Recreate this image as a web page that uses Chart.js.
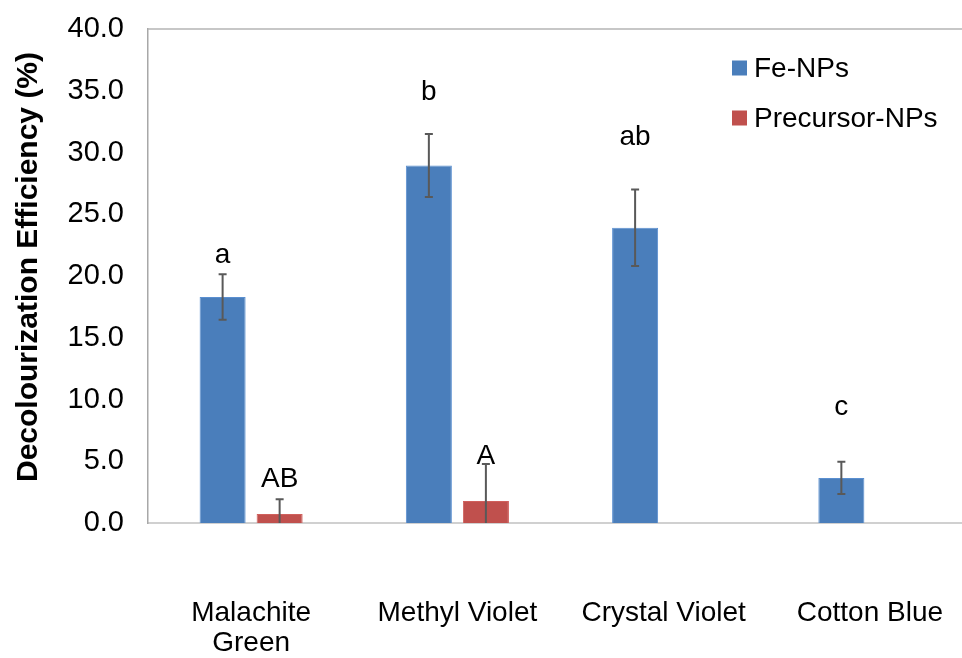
<!DOCTYPE html>
<html>
<head>
<meta charset="utf-8">
<script src="https://cdn.jsdelivr.net/npm/chart.js@4.4.1/dist/chart.umd.min.js"></script>
<style>
  html, body { margin: 0; padding: 0; background: #fff; overflow: hidden; }
  #wrap { width: 985px; height: 658px; }
</style>
</head>
<body>
<div id="wrap"><canvas id="chart1" width="985" height="658"></canvas></div>
<script>
// chart data
const categories = [['Malachite', 'Green'], 'Methyl Violet', 'Crystal Violet', 'Cotton Blue'];
const seriesNames = ['Fe-NPs', 'Precursor-NPs'];

const feValues = [18.3, 28.95, 23.9, 3.65];
const feErrors = [1.85, 2.55, 3.1, 1.3];
const preValues = [0.73, 1.78, 0, 0];
const preErrors = [1.2, 3.0, 0, 0];

// significance letters and the value (baseline) where they sit
const feLetters = ['a', 'b', 'ab', 'c'];
const feLetterAt = [21.05, 34.25, 30.6, 8.75];
const preLetters = ['AB', 'A', '', ''];
const preLetterAt = [2.9, 4.8, 0, 0];

const yTitle = 'Decolourization Efficiency (%)';
const yMin = 0, yMax = 40, yStep = 5;

const FONT = "'Liberation Sans', Arial, Helvetica, sans-serif";
const blue = '#4a7ebb';
const red = '#c0504d';

const errorsBy = [feErrors, preErrors];
const lettersBy = [feLetters, preLetters];
const letterAtBy = [feLetterAt, preLetterAt];

const extras = {
  id: 'extras',
  afterDatasetsDraw(chart) {
    const ctx = chart.ctx;
    const y = chart.scales.y;
    ctx.save();
    chart.data.datasets.forEach(function (ds, di) {
      const meta = chart.getDatasetMeta(di);
      meta.data.forEach(function (bar, i) {
        const v = ds.data[i];
        const e = errorsBy[di][i];
        if (e > 0) {
          const top = y.getPixelForValue(v + e);
          const lowVal = v - e;
          const bot = y.getPixelForValue(Math.max(yMin, lowVal));
          ctx.strokeStyle = '#595959';
          ctx.lineWidth = 2;
          ctx.beginPath();
          ctx.moveTo(bar.x, top);
          ctx.lineTo(bar.x, bot);
          ctx.moveTo(bar.x - 4, top);
          ctx.lineTo(bar.x + 4, top);
          if (lowVal > yMin) {
            ctx.moveTo(bar.x - 4, bot);
            ctx.lineTo(bar.x + 4, bot);
          }
          ctx.stroke();
        }
        const txt = lettersBy[di][i];
        if (txt) {
          ctx.fillStyle = '#000';
          ctx.font = '28px ' + FONT;
          ctx.textAlign = 'center';
          ctx.textBaseline = 'alphabetic';
          ctx.fillText(txt, bar.x, y.getPixelForValue(letterAtBy[di][i]));
        }
      });
    });
    ctx.restore();
  },
  afterDraw(chart) {
    const ctx = chart.ctx;
    const a = chart.chartArea;
    ctx.save();
    // top frame line
    ctx.strokeStyle = '#b5b5b5';
    ctx.lineWidth = 1.5;
    ctx.beginPath();
    ctx.moveTo(a.left, a.top);
    ctx.lineTo(a.right, a.top);
    ctx.stroke();

    // legend inside plot
    const rows = [68, 118];
    chart.data.datasets.forEach(function (ds, di) {
      ctx.fillStyle = ds.backgroundColor;
      ctx.fillRect(732, rows[di] - 7.5, 15, 15);
      ctx.fillStyle = '#000';
      ctx.font = '28px ' + FONT;
      ctx.textAlign = 'left';
      ctx.textBaseline = 'middle';
      ctx.fillText(ds.label, 754, rows[di] + 1);
    });

    // y axis title
    ctx.translate(29, 267);
    ctx.rotate(-Math.PI / 2);
    ctx.font = 'bold 30px ' + FONT;
    ctx.textAlign = 'center';
    ctx.textBaseline = 'middle';
    ctx.fillStyle = '#000';
    ctx.fillText(yTitle, 0, 0);
    ctx.restore();
  }
};

const data = {
  labels: categories,
  datasets: [{
    label: seriesNames[0],
    data: feValues,
    backgroundColor: blue,
    borderColor: '#5a8fd0',
    borderWidth: 1
  }, {
    label: seriesNames[1],
    data: preValues,
    backgroundColor: red,
    borderColor: '#d0605c',
    borderWidth: 1
  }]
};

const config = {
  type: 'bar',
  data: data,
  options: {
    responsive: false,
    animation: false,
    devicePixelRatio: 1,
    layout: { padding: { left: 68, right: 12, top: 29, bottom: 0 } },
    datasets: {
      bar: { categoryPercentage: 0.553, barPercentage: 0.807 }
    },
    plugins: {
      legend: { display: false },
      tooltip: { enabled: false }
    },
    scales: {
      x: {
        grid: { display: false, drawTicks: false },
        border: { display: true, color: '#d0d0d0', width: 2 },
        ticks: {
          color: '#000',
          font: { family: FONT, size: 28, lineHeight: 1.05 },
          padding: 76,
          maxRotation: 0,
          autoSkip: false
        },
        afterFit: function (scale) {
          // big label gap, but no extra side padding
          scale.height = 135;
          scale.paddingLeft = 0;
          scale.paddingRight = 0;
        }
      },
      y: {
        min: yMin,
        max: yMax,
        grid: { display: false, drawTicks: false },
        border: { display: true, color: '#a8a8a8', width: 1.5 },
        ticks: {
          stepSize: yStep,
          color: '#000',
          font: { family: FONT, size: 29 },
          padding: 24,
          callback: function (v) { return Number(v).toFixed(1); }
        },
        afterFit: function (scale) {
          scale.width = 80;
          scale.paddingTop = 0;
          scale.paddingBottom = 0;
        }
      }
    }
  },
  plugins: [extras]
};

const myChart = new Chart(document.getElementById('chart1'), config);
</script>
</body>
</html>
